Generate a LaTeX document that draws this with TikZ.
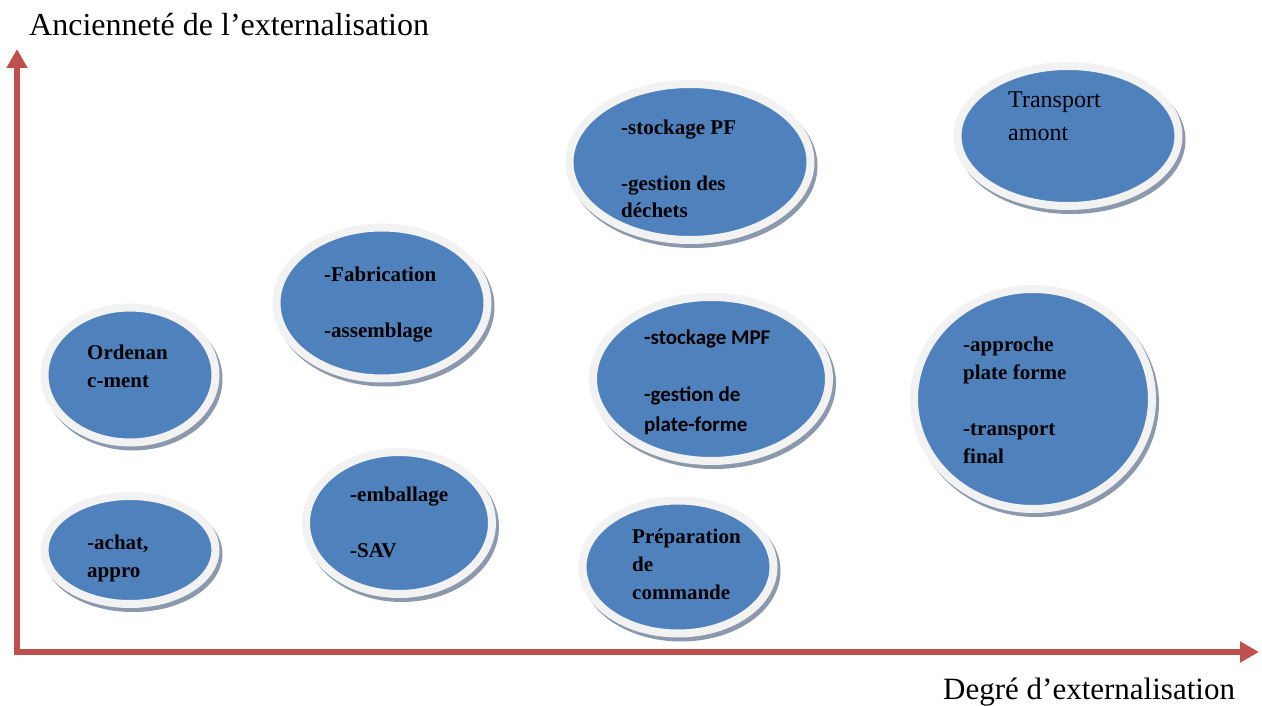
\documentclass[tikz,border=0pt]{standalone}
\usepackage{fontspec}
\setmainfont{Liberation Serif}[BoldFont={Liberation Serif Bold}]
\newfontfamily\calibri{Carlito}[BoldFont={Carlito Bold}]
\usepackage{tikz}
\usetikzlibrary{arrows.meta}
\usetikzlibrary{shapes.geometric,shadows}
\definecolor{axered}{RGB}{192,80,77}
\definecolor{bleu}{RGB}{79,129,189}
\definecolor{anneau}{RGB}{242,242,242}
\definecolor{ombre}{RGB}{140,152,172}

\begin{document}
\begin{tikzpicture}[x=1pt,y=-1pt,
    bulle/.style={ellipse,fill=bleu,draw=anneau,line width=8pt,inner sep=0pt,
      general shadow={fill=ombre,draw=ombre,line width=8pt,shadow xshift=3pt,shadow yshift=-4pt}},
    texte/.style={font=\bfseries\fontsize{21}{28}\selectfont,align=left,inner sep=0pt,anchor=base west},
    titre/.style={font=\fontsize{31}{36}\selectfont,inner sep=0pt,anchor=base west}]
  \useasboundingbox (0,0) rectangle (1262,706);
    % axes
    \coordinate (origine) at (17,652);
    \coordinate (haut) at (17,49);
    \coordinate (droite) at (1259,652);
    \draw[axered,line width=6pt,-{Triangle[width=20pt,length=19pt]}] (origine) -- (haut);
    \draw[axered,line width=6pt,-{Triangle[width=20pt,length=19pt]}] ([xshift=-3pt]origine) -- (droite);
    \node[titre,font=\fontsize{32}{36}\selectfont] (anciennete) at (29,36) {Ancienneté de l’externalisation};
    \node[titre] (degre) at (943,699) {Degré d’externalisation};
    % the bubbles
    \foreach \nom/\x/\y/\w/\h in {ordo/130/375/171/135, achat/130/550/171/108,
        fab/382/303/211/151, emb/399/523/186/142, stockpf/690/162/241/156,
        stockmpf/711/379/236/164, prep/678/567/191/133,
        transport/1068/136/221/140, approche/1033/399/238/220}{
      \node[bulle,minimum width=\w pt,minimum height=\h pt] (\nom) at (\x,\y) {};}
    % texts (anchored on the last line)
    \node[texte] (t-ordo) at (87,387) {Ordenan\\c-ment};
    \node[texte] (t-achat) at (87,577) {-achat,\\appro};
    \node[texte] (t-fab) at (324,337) {-Fabrication\\[28pt]-assemblage};
    \node[texte] (t-emb) at (350,557) {-emballage\\[28pt]-SAV};
    \node[texte] (t-stockpf) at (621,218) {-stockage PF\\[28pt]-gestion des\\déchets};
    \node[texte,font=\calibri\bfseries\fontsize{21}{30}\selectfont] (t-stockmpf) at (644,431)
      {-stockage MPF\\[27pt]-gestion de\\plate-forme};
    \node[texte] (t-prep) at (632,599) {Préparation\\de\\commande};
    \node[texte,font=\fontsize{24}{33}\selectfont] (t-transport) at (1008,141) {Transport\\amont};
    \node[texte] (t-approche) at (963,463) {-approche\\plate forme\\[28pt]-transport\\final};
  \end{tikzpicture}
\end{document}
